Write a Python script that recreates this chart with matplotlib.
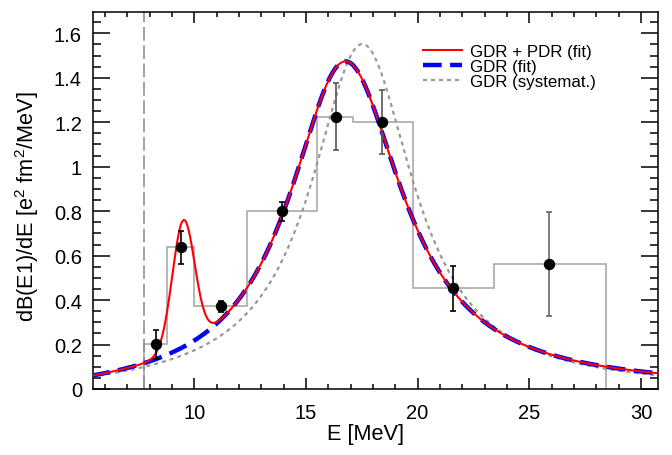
import numpy as np
import matplotlib
matplotlib.use('Agg')
import matplotlib.pyplot as plt
from matplotlib.ticker import MultipleLocator, FuncFormatter

plt.rcParams['font.family'] = ['Liberation Sans', 'DejaVu Sans']
plt.rcParams['mathtext.default'] = 'regular'

# measured strength (histogram + points)
binEdges = [7.76, 8.79, 10.0, 12.35, 15.48, 17.09, 19.8, 23.43, 28.44]
binValues = [0.202, 0.637, 0.372, 0.800, 1.225, 1.202, 0.453, 0.562]
pointE = [8.29, 9.39, 11.18, 13.93, 16.33, 18.43, 21.6, 25.9]
pointErr = [0.065, 0.075, 0.025, 0.042, 0.150, 0.143, 0.100, 0.233]
errColors = ['black', 'black', 'black', 'black', '#555555', '#555555', 'black', '#666666']

# curve parameters: E0, width, peak, energy exponent
gdrFit = [17.0, 6.2, 1.474, 1.2]
gdrSyst = [17.75, 5.6, 1.552, 1.0]
# PDR gaussian: centre, sigma, amplitude
pdrFit = [9.52, 0.5, 0.57]
threshold = 7.76

legendLabels = ['GDR + PDR (fit)', 'GDR (fit)', 'GDR (systemat.)']


def lorentz(E, E0, G, peak, p):
    y = (E / E0) ** (p - 2) / (1 + ((E**2 - E0**2) / (E * G)) ** 2)
    return peak * y / y.max()


E = np.linspace(5.4, 30.8, 800)
gdr = lorentz(E, *gdrFit)
total = gdr + pdrFit[2] * np.exp(-(E - pdrFit[0])**2 / (2 * pdrFit[1]**2))
syst = lorentz(E, *gdrSyst)

fig = plt.figure(figsize=(6.72, 4.56), dpi=100)
ax = fig.add_axes([93/672, 1 - 390/456, (657.7 - 93)/672, (390 - 13)/456])

ax.stairs(binValues, binEdges, baseline=0, color='#aaaaaa', lw=1.2, zorder=1)
ax.axvline(threshold, color='#888888', lw=1.1, dashes=(9, 3), zorder=1)

l3, = ax.plot(E, syst, color='#999999', lw=1.6, dashes=(1.8, 1.8), zorder=2)
l2, = ax.plot(E, gdr, color='#0000ff', lw=3.2, dashes=(4.2, 1.9), zorder=3)
l1, = ax.plot(E, total, color='#ff0000', lw=1.5, zorder=4)

for x, y, e, c in zip(pointE, binValues, pointErr, errColors):
    ax.errorbar(x, y, yerr=e, fmt='o', color='black', ms=7.2, ecolor=c,
                elinewidth=1.2, capsize=2.2, capthick=1.2, zorder=5)

ax.set_xlim(5.47, 30.75)
ax.set_ylim(0, 1.696)
ax.xaxis.set_major_locator(MultipleLocator(5))
ax.xaxis.set_minor_locator(MultipleLocator(1))
ax.yaxis.set_major_locator(MultipleLocator(0.2))
ax.yaxis.set_minor_locator(MultipleLocator(0.05))
ax.yaxis.set_major_formatter(FuncFormatter(lambda v, pos: f'{v:g}'))

ax.tick_params(which='both', direction='in', top=True, right=True, width=1.1, labelsize=14.5)
ax.tick_params(axis='y', which='major', length=12, pad=8)
ax.tick_params(axis='y', which='minor', length=6)
ax.tick_params(axis='x', which='major', length=7.7, pad=10)
ax.tick_params(axis='x', which='minor', length=3.8)
for s in ax.spines.values():
    s.set_linewidth(1.1)

ax.set_xlabel('E [MeV]', fontsize=15.7)
ax.xaxis.set_label_coords(0.482, -0.09)
ax.set_ylabel('dB(E1)/dE [e$^2$ fm$^2$/MeV]', fontsize=15.7)
ax.yaxis.set_label_coords(-0.092, 0.487)

ax.legend([l1, l2, l3], legendLabels, loc='upper left', bbox_to_anchor=(0.584, 0.915),
          frameon=False, fontsize=12.2, handlelength=2.3, handletextpad=0.5,
          labelspacing=0.0, borderpad=0, borderaxespad=0)

fig.savefig('out.png', dpi=100)
